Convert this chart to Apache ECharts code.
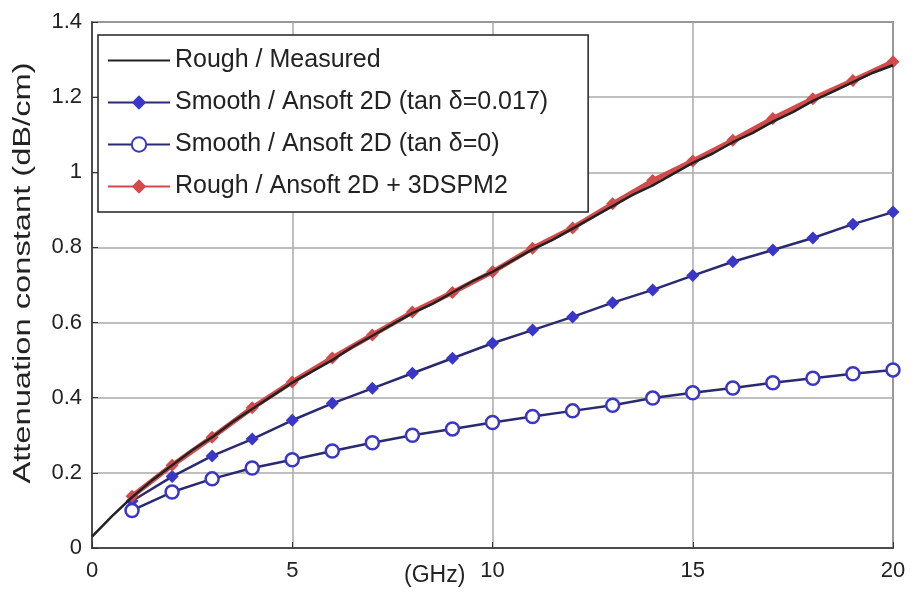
<!DOCTYPE html>
<html>
<head>
<meta charset="utf-8">
<script src="https://cdn.jsdelivr.net/npm/echarts@6/dist/echarts.min.js"></script>
<style>
  html, body { margin: 0; padding: 0; background: #fff; }
  #chart { width: 916px; height: 604px; }
</style>
</head>
<body>
<div id="chart"></div>
<script>
// measured curve (black)
const measFreq = [0, 0.5, 1, 1.5, 2, 2.5, 3, 3.5, 4, 4.5, 5, 5.5, 6, 6.5, 7, 7.5, 8, 8.5, 9, 9.5, 10,
  10.5, 11, 11.5, 12, 12.5, 13, 13.5, 14, 14.5, 15, 15.5, 16, 16.5, 17, 17.5, 18, 18.5, 19, 19.5, 20];
const measAtt = [0.03, 0.085, 0.135, 0.18, 0.22, 0.26, 0.295, 0.335, 0.37, 0.405, 0.44, 0.47, 0.5, 0.535, 0.565, 0.595, 0.625, 0.65, 0.68, 0.71, 0.735,
  0.765, 0.795, 0.82, 0.85, 0.88, 0.91, 0.94, 0.965, 0.995, 1.025, 1.05, 1.08, 1.105, 1.135, 1.16, 1.19, 1.215, 1.24, 1.265, 1.285];

// simulated curves, one point per GHz
const simFreq = [1, 2, 3, 4, 5, 6, 7, 8, 9, 10, 11, 12, 13, 14, 15, 16, 17, 18, 19, 20];
const smoothLoss = [0.125, 0.19, 0.245, 0.29, 0.34, 0.385, 0.425, 0.465, 0.505, 0.545, 0.58, 0.615, 0.653, 0.687, 0.725, 0.762, 0.793, 0.825, 0.862, 0.894];
const smoothNoLoss = [0.1, 0.149, 0.184, 0.213, 0.235, 0.258, 0.28, 0.3, 0.317, 0.334, 0.35, 0.365, 0.38, 0.399, 0.413, 0.426, 0.44, 0.452, 0.464, 0.474];
const roughSim = [0.138, 0.22, 0.295, 0.373, 0.442, 0.506, 0.567, 0.628, 0.68, 0.735, 0.798, 0.852, 0.916, 0.978, 1.03, 1.085, 1.143, 1.196, 1.244, 1.294];

const xTicks = [0, 5, 10, 15, 20];
const yTicks = [0, 0.2, 0.4, 0.6, 0.8, 1, 1.2, 1.4];

const seriesNames = [
  'Rough / Measured',
  'Smooth / Ansoft 2D (tan \u03b4=0.017)',
  'Smooth / Ansoft 2D (tan \u03b4=0)',
  'Rough / Ansoft 2D + 3DSPM2'
];

const zip = (xs, ys) => xs.map((x, i) => [x, ys[i]]);

const chart = echarts.init(document.getElementById('chart'));
const font = 'Liberation Sans, Arial, sans-serif';

const option = {
  backgroundColor: '#fff',
  animation: false,
  grid: {
    left: 92, right: 23, top: 22, bottom: 56,
    show: true, borderColor: '#333', borderWidth: 1.5
  },
  legend: {
    orient: 'vertical',
    left: 98, top: 35,
    padding: [13, 40, 13, 9],
    itemGap: 17,
    itemWidth: 62,
    itemHeight: 18,
    backgroundColor: '#fff',
    borderColor: '#222',
    borderWidth: 1.5,
    textStyle: { fontFamily: font, fontSize: 25, lineHeight: 25, color: '#222' },
    data: [
      { name: seriesNames[0], itemStyle: { color: 'transparent', borderColor: 'transparent' } },
      seriesNames[1], seriesNames[2], seriesNames[3]
    ]
  },
  xAxis: {
    type: 'value', min: 0, max: 20, interval: 5,
    axisLine: { show: true, lineStyle: { color: '#333', width: 1.5 } },
    axisTick: { show: true, inside: true, length: 6, lineStyle: { color: '#333' } },
    axisLabel: {
      fontFamily: font, fontSize: 22, color: '#222', margin: 12,
      formatter: v => xTicks.includes(v) ? String(v) : ''
    },
    splitLine: { show: true, lineStyle: { color: '#aaa', width: 1.5 } }
  },
  yAxis: {
    type: 'value', min: 0, max: 1.4, interval: 0.2,
    axisLine: { show: true, lineStyle: { color: '#333', width: 1.5 } },
    axisTick: { show: true, inside: true, length: 6, lineStyle: { color: '#333' } },
    axisLabel: {
      fontFamily: font, fontSize: 22, color: '#222', margin: 10,
      formatter: v => {
        const t = yTicks.find(k => Math.abs(k - v) < 1e-6);
        return t === undefined ? '' : String(t);
      }
    },
    splitLine: { show: true, lineStyle: { color: '#aaa', width: 1.5 } }
  },
  graphic: [
    {
      type: 'text', x: 24, y: 273, rotation: Math.PI / 2, scaleX: 1.42,
      style: {
        text: 'Attenuation constant (dB/cm)', fontFamily: font, fontSize: 23,
        fill: '#222', align: 'center', verticalAlign: 'middle'
      }
    },
    {
      type: 'text', left: 404, top: 564,
      style: { text: '(GHz)', fontFamily: font, fontSize: 23, fill: '#222' }
    }
  ],
  series: [
    {
      name: seriesNames[0], type: 'line', z: 5,
      data: zip(measFreq, measAtt),
      symbol: 'none',
      lineStyle: { color: '#222', width: 2.5 },
      itemStyle: { color: '#222' }
    },
    {
      name: seriesNames[1], type: 'line', z: 3,
      data: zip(simFreq, smoothLoss),
      symbol: 'diamond', symbolSize: 13,
      lineStyle: { color: '#2a2a70', width: 2.5 },
      itemStyle: { color: '#3a36c8' }
    },
    {
      name: seriesNames[2], type: 'line', z: 3,
      data: zip(simFreq, smoothNoLoss),
      symbol: 'circle', symbolSize: 13,
      lineStyle: { color: '#2a2a70', width: 2.5 },
      itemStyle: { color: '#fff', borderColor: '#3a36c8', borderWidth: 2.5 }
    },
    {
      name: seriesNames[3], type: 'line', z: 4,
      data: zip(simFreq, roughSim),
      symbol: 'diamond', symbolSize: 13,
      lineStyle: { color: '#d44a4a', width: 5 },
      itemStyle: { color: '#d44a4a' }
    }
  ]
};

chart.setOption(option);
</script>
</body>
</html>
